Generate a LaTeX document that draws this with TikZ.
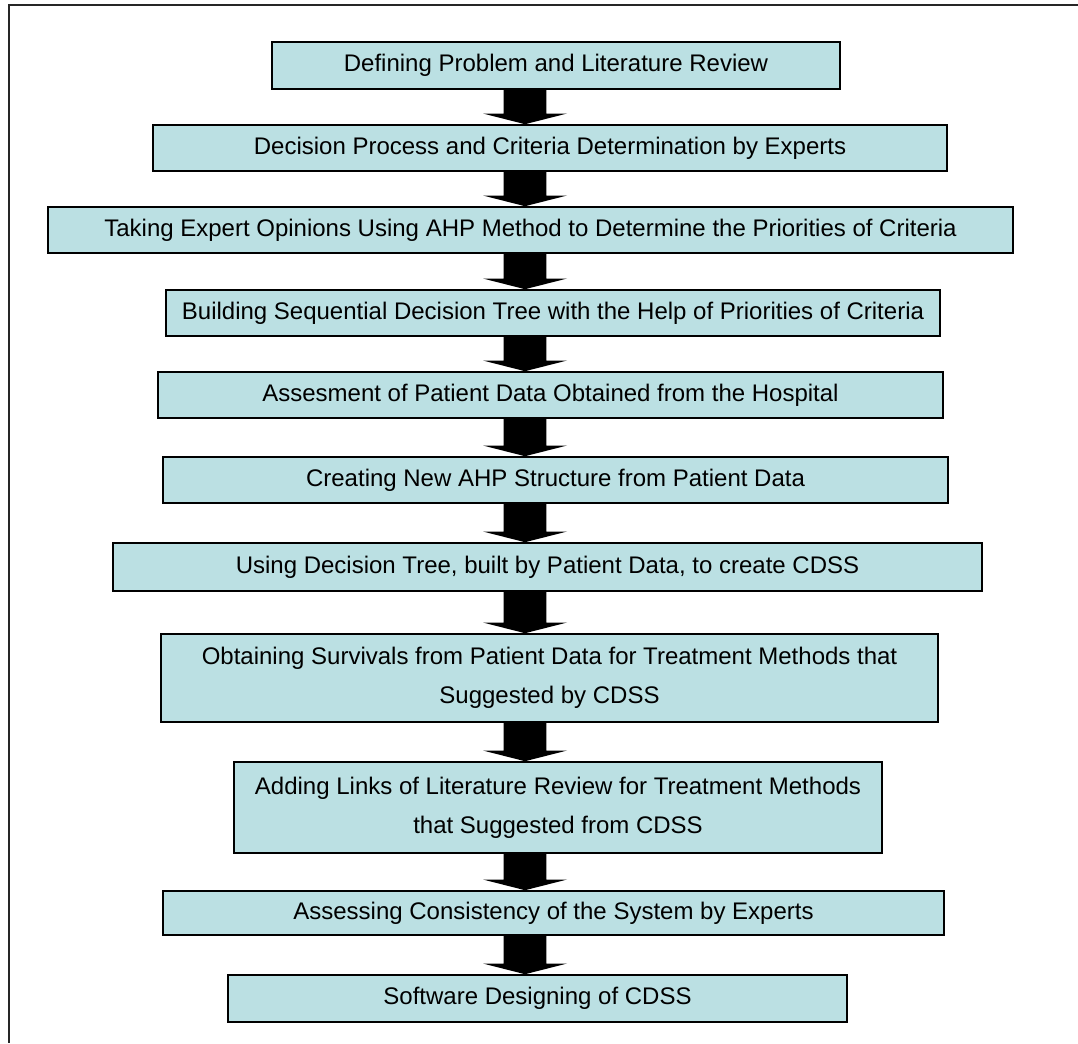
\documentclass[tikz,border=0pt]{standalone}
\usepackage{fontspec}
\setmainfont{Liberation Sans}
\usetikzlibrary{calc}

\definecolor{stagefill}{RGB}{187,224,227}

\begin{document}
\begin{tikzpicture}[x=0.75pt, y=-0.75pt,
  font=\fontsize{18}{29}\selectfont,
  stage/.style={draw=black, line width=1.2pt, fill=stagefill, inner sep=0pt, align=center}]

  \def\arrowX{525}

  \useasboundingbox (0,0) rectangle (1078,1043);

  % frame
  \draw[line width=1.1pt, black!85] (1078,5) -- (9,5) -- (9,1043);

  % stages
  \node[stage, minimum width=426pt, minimum height=35.25pt] (s1) at (556,65.5)
    {Defining Problem and Literature Review};
  \node[stage, minimum width=595.5pt, minimum height=34.5pt] (s2) at (550,148)
    {Decision Process and Criteria Determination by Experts};
  \node[stage, minimum width=723.75pt, minimum height=34.5pt] (s3) at (530.5,230)
    {Taking Expert Opinions Using AHP Method to Determine the Priorities of Criteria};
  \node[stage, minimum width=580.5pt, minimum height=34.5pt] (s4) at (553,313)
    {Building Sequential Decision Tree with the Help of Priorities of Criteria};
  \node[stage, minimum width=588.75pt, minimum height=34.5pt] (s5) at (550.5,395)
    {Assesment of Patient Data Obtained from the Hospital};
  \node[stage, minimum width=588.75pt, minimum height=34.5pt] (s6) at (555.5,480)
    {Creating New AHP Structure from Patient Data};
  \node[stage, minimum width=651.75pt, minimum height=36pt] (s7) at (547.5,567)
    {Using Decision Tree, built by Patient Data, to create CDSS};
  \node[stage, minimum width=582.75pt, minimum height=66pt] (s8) at (549.5,678)
    {Obtaining Survivals from Patient Data for Treatment Methods that\\Suggested by CDSS};
  \node[stage, minimum width=486pt, minimum height=68.25pt] (s9) at (558,807.5)
    {Adding Links of Literature Review for Treatment Methods\\that Suggested from CDSS};
  \node[stage, minimum width=585.75pt, minimum height=33pt] (s10) at (553.5,913)
    {Assessing Consistency of the System by Experts};
  \node[stage, minimum width=464.25pt, minimum height=35.25pt] (s11) at (537.5,998.5)
    {Software Designing of CDSS};

  % block arrows
  \foreach \a/\b in {s1/s2,s2/s3,s3/s4,s4/s5,s5/s6,s6/s7,s7/s8,s8/s9,s9/s10,s10/s11}
    \fill let \p1=(\a.south), \p2=(\b.north), \p3=(\arrowX,0) in
      (\x3-16pt,\y1) -- (\x3-16pt,\y2+8pt) -- (\x3-31.5pt,\y2+8pt) -- (\x3,\y2)
      -- (\x3+31.5pt,\y2+8pt) -- (\x3+16pt,\y2+8pt) -- (\x3+16pt,\y1) -- cycle;

\end{tikzpicture}
\end{document}
